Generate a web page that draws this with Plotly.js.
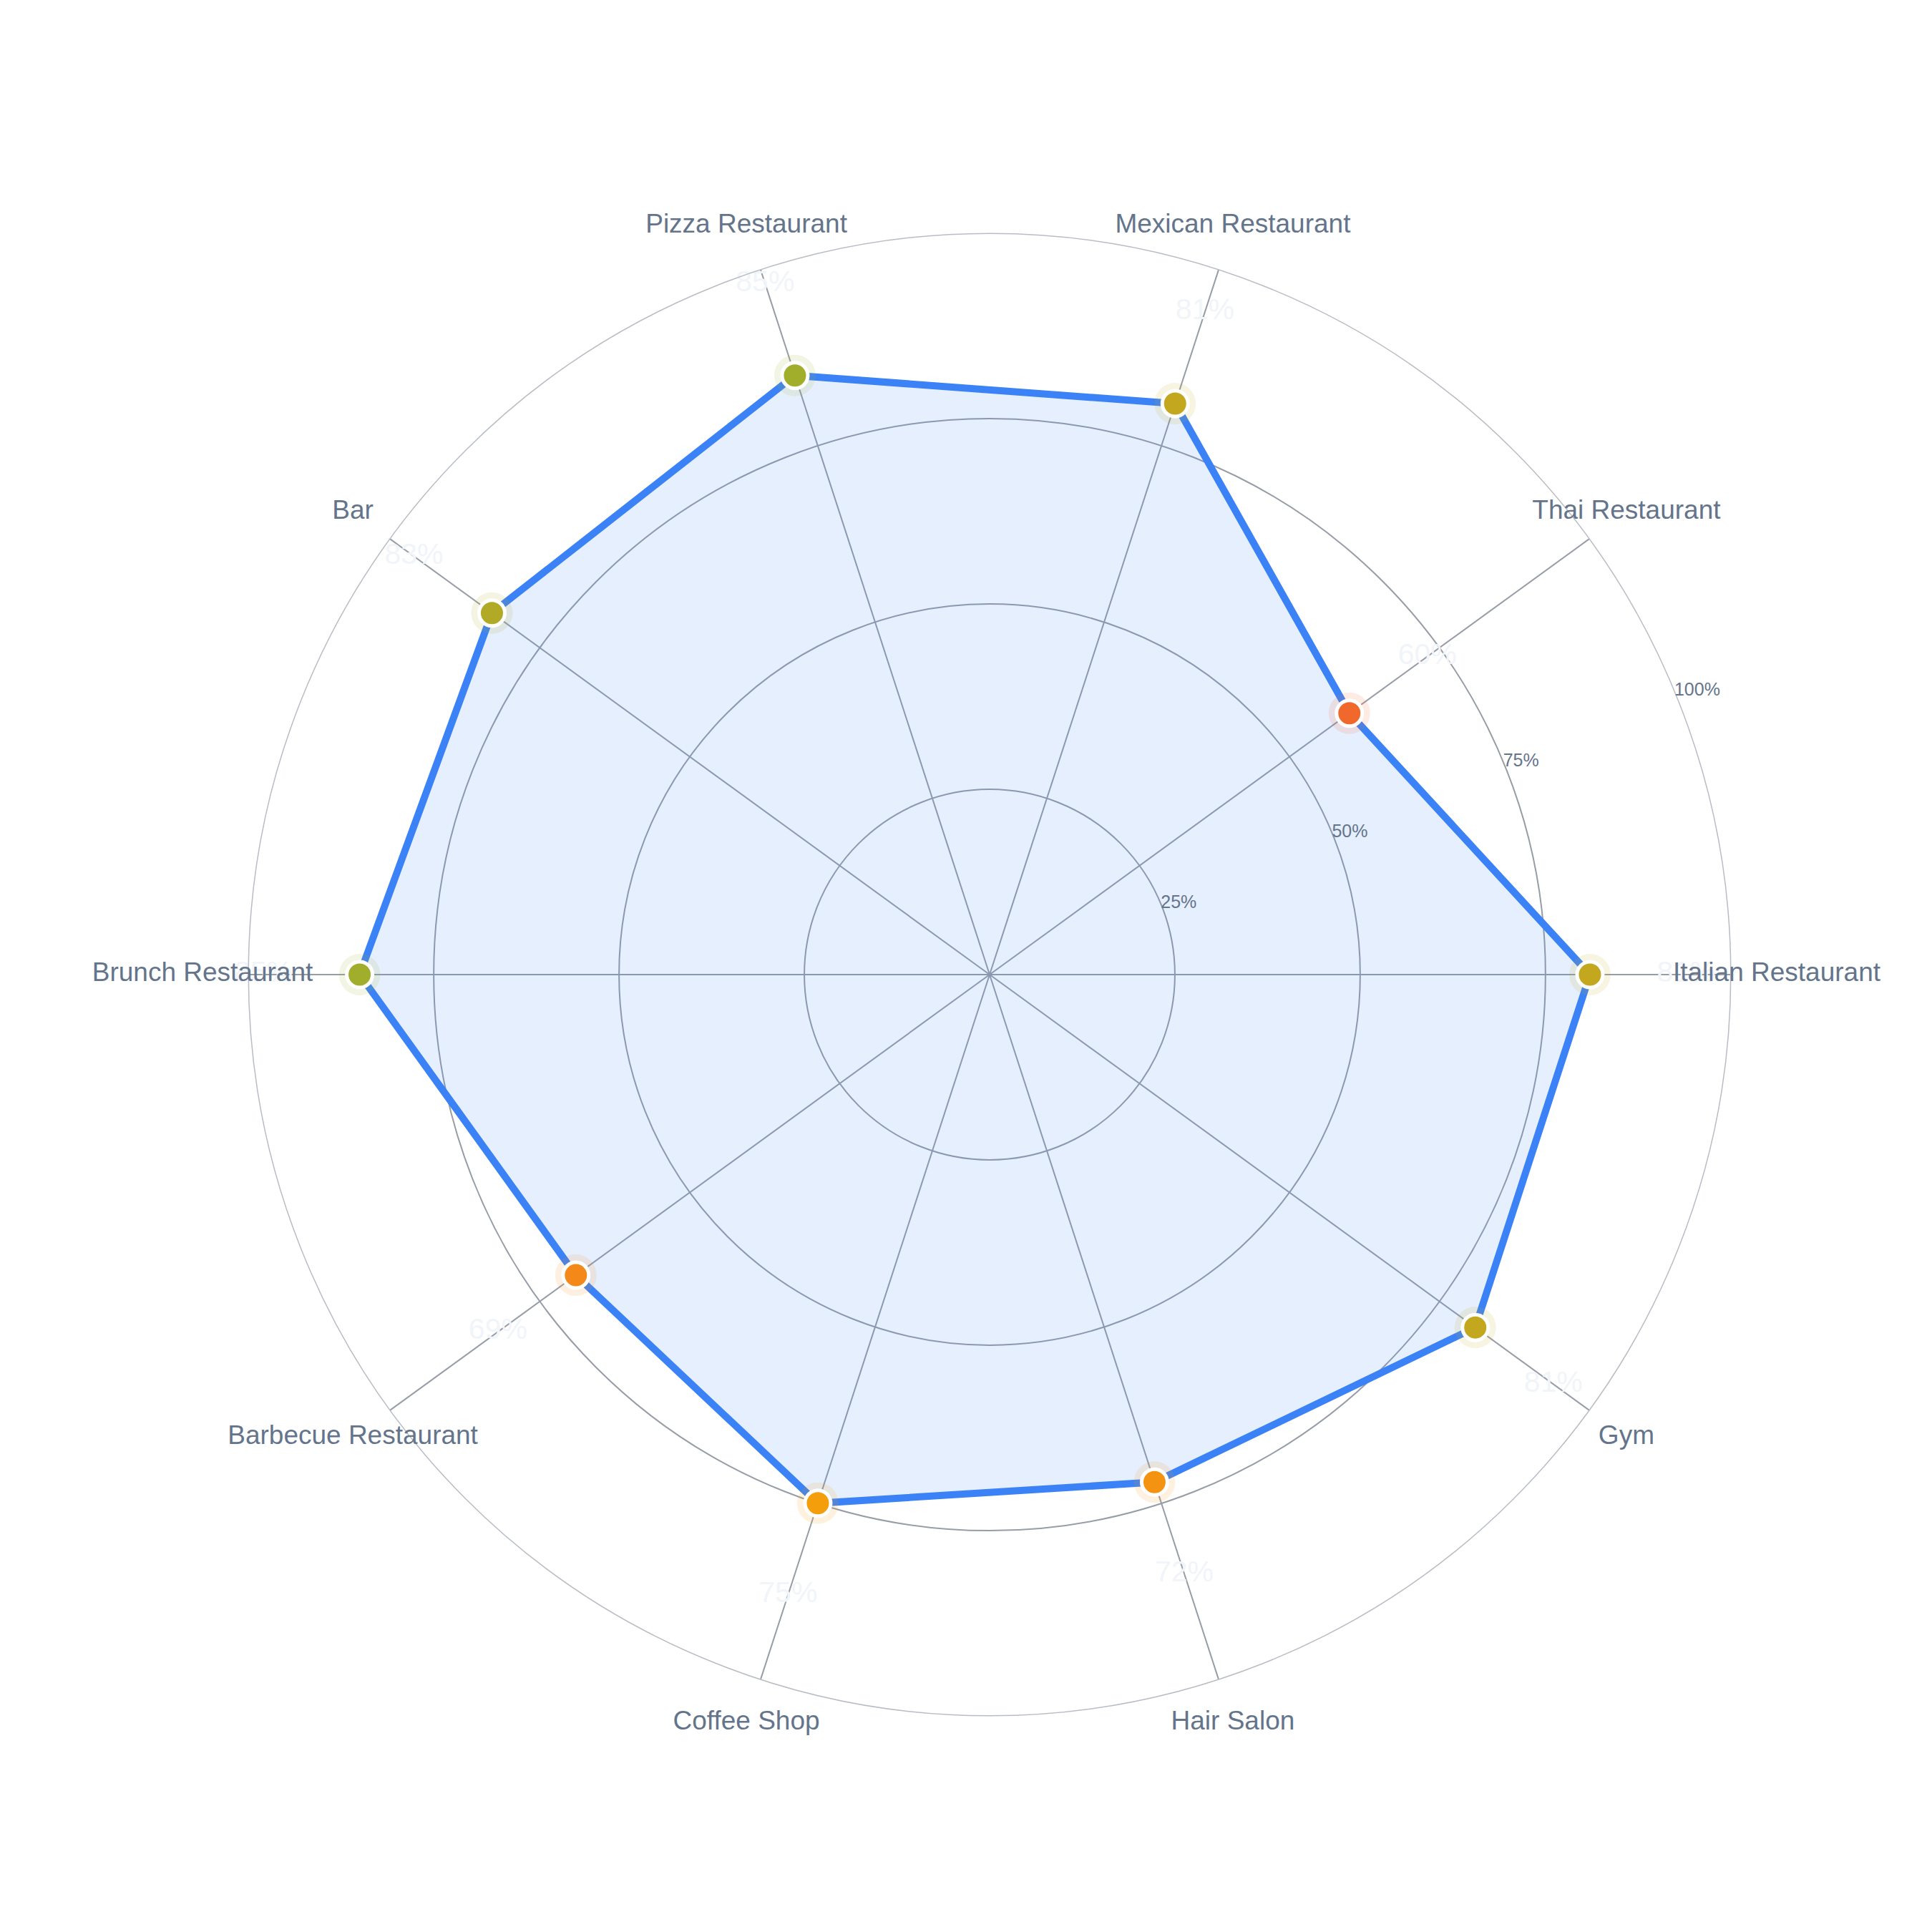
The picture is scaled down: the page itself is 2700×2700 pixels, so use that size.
<!DOCTYPE html>
<html>
<head>
<meta charset="utf-8">
<script src="https://cdn.plot.ly/plotly-3.0.1.min.js"></script>
<style>html,body{margin:0;padding:0;background:#fff;}#chart{width:2700px;height:2700px;}</style>
</head>
<body>
<div id="chart"></div>
<script>
// ---- data ----
const categories = ["Italian Restaurant","Thai Restaurant","Mexican Restaurant","Pizza Restaurant","Bar","Brunch Restaurant","Barbecue Restaurant","Coffee Shop","Hair Salon","Gym"];
const values = [81, 60, 81, 85, 83, 85, 69, 75, 72, 81];
const radialTicks = [25, 50, 75, 100];
const radialTickLabels = ["25%", "50%", "75%", "100%"];

// ---- styling ----
const FONT = '"Liberation Sans", Arial, sans-serif';
const colorscale = [[0, '#EF4444'], [0.5, '#F59E0B'], [1, '#22C55E']];
const closedTheta = categories.concat([categories[0]]);
const closedR = values.concat([values[0]]);
const LABEL_R = 106.2;       // category labels ring (in radial units of the main plot)
const VALUE_OFFSET = 13;     // value text sits a little beyond each point
const TICK_LABEL_ANGLE = 22.5; // direction (deg) along which radial tick labels sit
const inner = 100 / LABEL_R;  // main polar radius relative to label polar
const pad = (1 - inner) / 2;

const traces = [
  {
    type: 'scatterpolar', subplot: 'polar', mode: 'lines',
    r: closedR, theta: closedTheta,
    fill: 'toself', fillcolor: 'rgba(59,130,246,0.13)',
    line: {color: '#3B82F6', width: 10},
    hoverinfo: 'skip', showlegend: false
  },
  {
    type: 'scatterpolar', subplot: 'polar', mode: 'markers',
    r: values, theta: categories,
    marker: {size: 58, color: values, colorscale: colorscale, cmin: 50, cmax: 100, opacity: 0.13, line: {width: 0}},
    hoverinfo: 'skip', showlegend: false
  },
  {
    type: 'scatterpolar', subplot: 'polar', mode: 'markers',
    r: values, theta: categories,
    marker: {size: 36, color: values, colorscale: colorscale, cmin: 50, cmax: 100, line: {color: '#ffffff', width: 5}},
    showlegend: false
  },
  {
    type: 'scatterpolar', subplot: 'polar', mode: 'text',
    r: values.map(v => v + VALUE_OFFSET), theta: categories,
    text: values.map(v => v + '%'), textposition: 'middle center',
    textfont: {family: FONT, size: 41, color: '#F1F5F9'},
    cliponaxis: false, hoverinfo: 'skip', showlegend: false
  },
  {
    type: 'scatterpolar', subplot: 'polar2', mode: 'text',
    r: categories.map(() => LABEL_R), theta: categories,
    text: categories, textposition: 'middle center',
    textfont: {family: FONT, size: 37, color: '#64748B'},
    cliponaxis: false, hoverinfo: 'skip', showlegend: false
  },
  {
    type: 'scatterpolar', subplot: 'polar3', mode: 'text',
    r: radialTicks, theta: radialTicks.map(() => TICK_LABEL_ANGLE),
    text: radialTickLabels, textposition: 'middle right',
    textfont: {family: FONT, size: 25, color: '#64748B'},
    cliponaxis: false, hoverinfo: 'skip', showlegend: false
  }
];

const hiddenAxis = {showgrid: false, showline: false, showticklabels: false, ticks: ''};

const layout = {
  width: 2700, height: 2700,
  paper_bgcolor: '#ffffff', plot_bgcolor: '#ffffff',
  margin: {l: 283, r: 217, t: 262, b: 238},
  showlegend: false,
  font: {family: FONT, color: '#64748B'},
  polar: {
    domain: {x: [pad, 1 - pad], y: [pad, 1 - pad]},
    bgcolor: '#ffffff',
    radialaxis: {
      range: [0, 100], angle: 18,
      tickvals: radialTicks, ticktext: radialTickLabels,
      showticklabels: false, showline: false, ticks: '',
      gridcolor: '#979DA6', gridwidth: 2
    },
    angularaxis: {
      type: 'category', rotation: 0, direction: 'counterclockwise',
      showticklabels: false, ticks: '',
      gridcolor: '#979DA6', gridwidth: 2,
      showline: true, linecolor: '#B8BDC5', linewidth: 1.5
    }
  },
  polar2: {
    domain: {x: [0, 1], y: [0, 1]},
    bgcolor: 'rgba(0,0,0,0)',
    radialaxis: Object.assign({range: [0, LABEL_R]}, hiddenAxis),
    angularaxis: Object.assign({type: 'category', rotation: 0, direction: 'counterclockwise', categoryarray: categories}, hiddenAxis)
  },
  polar3: {
    domain: {x: [pad, 1 - pad], y: [pad, 1 - pad]},
    bgcolor: 'rgba(0,0,0,0)',
    radialaxis: Object.assign({range: [0, 100]}, hiddenAxis),
    angularaxis: Object.assign({type: 'linear', thetaunit: 'degrees', rotation: 0, direction: 'counterclockwise'}, hiddenAxis)
  }
};

Plotly.newPlot('chart', traces, layout, {displayModeBar: false, staticPlot: true});
</script>
</body>
</html>
